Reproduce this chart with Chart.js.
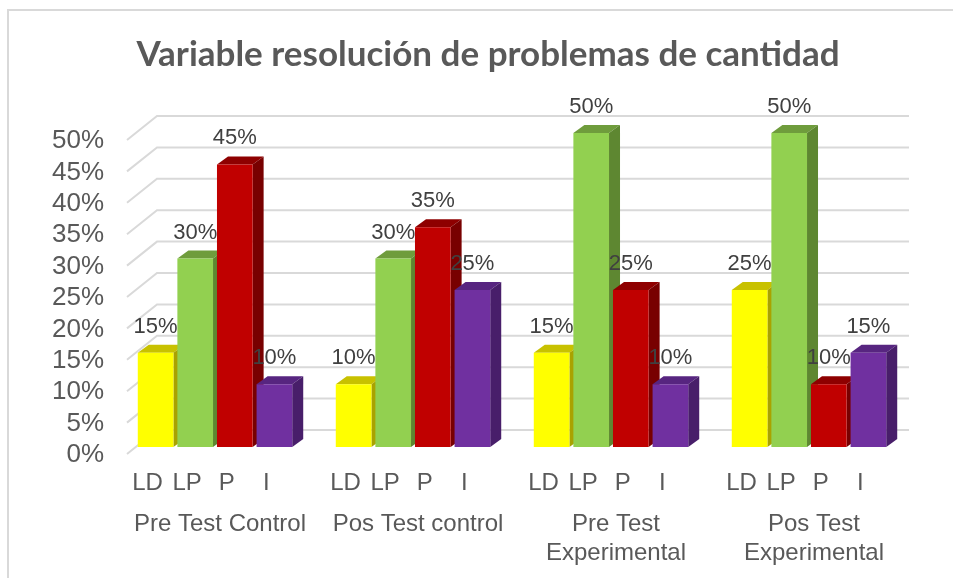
<!DOCTYPE html>
<html>
<head>
<meta charset="utf-8">
<script src="https://cdn.jsdelivr.net/npm/chart.js@4.4.0/dist/chart.umd.min.js"></script>
<style>
    html, body { margin: 0; padding: 0; background: #fff; }
</style>
</head>
<body>
<canvas id="chart" width="953" height="578"></canvas>
<script>
const titleText = 'Variable resolución de problemas de cantidad';
// groups on the x axis (multi line labels as arrays)
const groups = [['Pre Test Control'], ['Pos Test control'], ['Pre Test', 'Experimental'], ['Pos Test', 'Experimental']];
// series, one per colour
const seriesNames = ['LD', 'LP', 'P', 'I'];
const ldValues = [15, 10, 15, 25];
const lpValues = [30, 30, 50, 50];
const pValues = [45, 35, 25, 10];
const iValues = [10, 25, 10, 15];
const yMax = 50;
const yStep = 5;

// colours: front, top, side
const faces = [
    ['#ffff00', '#c8c100', '#a9a200'],
    ['#92d050', '#6f9c3c', '#5e8731'],
    ['#c00000', '#8e0000', '#780000'],
    ['#7030a0', '#572580', '#481e6a']
];

// 3d depth of bars and of the back wall
const bar3d = { dx: 11, dy: -8 };
const wall = { fx: 11, fy: 7, bx: 41, by: -17 };

const font = '"Liberation Sans", Arial, sans-serif';

const threeD = {
    id: 'threeD',
    beforeDraw(chart) {
        const ctx = chart.ctx;
        ctx.save();
        //outer frame
        ctx.strokeStyle = '#d9d9d9';
        ctx.lineWidth = 2;
        ctx.beginPath();
        ctx.moveTo(8, 580);
        ctx.lineTo(8, 10);
        ctx.lineTo(955, 10);
        ctx.stroke();
        //title, centred on the whole frame
        ctx.font = 'bold 35px Lato, sans-serif';
        ctx.fillStyle = '#595959';
        ctx.textAlign = 'center';
        ctx.textBaseline = 'middle';
        ctx.fillText(titleText, 488, 55);
        ctx.restore();
    },
    beforeDatasetsDraw(chart) {
        const ctx = chart.ctx;
        const area = chart.chartArea;
        const y = chart.scales.y;
        ctx.save();
        //back wall gridlines
        ctx.strokeStyle = '#d9d9d9';
        ctx.lineWidth = 2;
        for (let v = 0; v <= yMax; v += yStep) {
            const py = y.getPixelForValue(v);
            ctx.beginPath();
            ctx.moveTo(area.left + wall.fx, py + wall.fy);
            ctx.lineTo(area.left + wall.bx, py + wall.by);
            ctx.lineTo(area.right + 1, py + wall.by);
            ctx.stroke();
        }
        //tops and sides, left to right
        const bars = [];
        chart.data.datasets.forEach((ds, di) => {
            chart.getDatasetMeta(di).data.forEach(el => {
                const p = el.getProps(['x', 'y', 'base', 'width'], true);
                bars.push({ p: p, c: faces[di] });
            });
        });
        bars.sort((a, b) => a.p.x - b.p.x);
        bars.forEach(b => {
            const L = b.p.x - b.p.width / 2, R = b.p.x + b.p.width / 2;
            const t = b.p.y, base = b.p.base;
            ctx.fillStyle = b.c[1];
            ctx.beginPath();
            ctx.moveTo(L, t);
            ctx.lineTo(R, t);
            ctx.lineTo(R + bar3d.dx, t + bar3d.dy);
            ctx.lineTo(L + bar3d.dx, t + bar3d.dy);
            ctx.closePath();
            ctx.fill();
            ctx.fillStyle = b.c[2];
            ctx.beginPath();
            ctx.moveTo(R, t);
            ctx.lineTo(R + bar3d.dx, t + bar3d.dy);
            ctx.lineTo(R + bar3d.dx, base + bar3d.dy);
            ctx.lineTo(R, base);
            ctx.closePath();
            ctx.fill();
        });
        ctx.restore();
    },
    afterDatasetsDraw(chart) {
        const ctx = chart.ctx;
        ctx.save();
        ctx.textAlign = 'center';
        ctx.textBaseline = 'middle';
        chart.data.datasets.forEach((ds, di) => {
            chart.getDatasetMeta(di).data.forEach((el, i) => {
                const p = el.getProps(['x', 'y'], true);
                //value label
                ctx.font = '22px ' + font;
                ctx.fillStyle = '#404040';
                ctx.fillText(ds.data[i] + '%', p.x, p.y - 26);
                //series label under the bar
                ctx.font = '24px ' + font;
                ctx.fillStyle = '#595959';
                ctx.fillText(seriesNames[di], p.x - 8, 483);
            });
        });
        ctx.restore();
    }
};

const seriesValues = [ldValues, lpValues, pValues, iValues];

new Chart(document.getElementById('chart'), {
    type: 'bar',
    data: {
        labels: groups,
        datasets: seriesValues.map((vals, i) => ({
            label: seriesNames[i],
            data: vals,
            backgroundColor: faces[i][0],
            borderWidth: 0,
            categoryPercentage: 0.8,
            barPercentage: 0.9
        }))
    },
    options: {
        responsive: false,
        animation: false,
        devicePixelRatio: 1,
        layout: { padding: { left: 36, right: 45, top: 133, bottom: 0 } },
        plugins: {
            legend: { display: false },
            tooltip: { enabled: false },
            title: { display: false }
        },
        scales: {
            x: {
                grid: { display: false, drawTicks: false },
                border: { display: false },
                ticks: {
                    color: '#595959',
                    font: { family: font, size: 24 },
                    padding: 63,
                    labelOffset: 5,
                    maxRotation: 0,
                    autoSkip: false
                },
                afterFit: scale => { scale.height = 131; }
            },
            y: {
                min: 0,
                max: yMax,
                grid: { display: false, drawTicks: false },
                border: { display: false },
                ticks: {
                    stepSize: yStep,
                    autoSkip: false,
                    color: '#595959',
                    font: { family: font, size: 26 },
                    padding: 12,
                    labelOffset: 8,
                    callback: v => v + '%'
                },
                afterFit: scale => { scale.width = 80; }
            }
        }
    },
    plugins: [threeD]
});
</script>
</body>
</html>
